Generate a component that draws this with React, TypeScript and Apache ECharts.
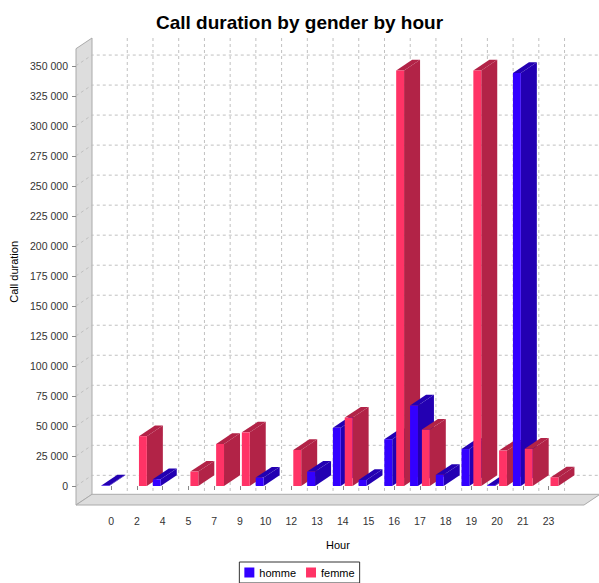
import React, { useEffect, useRef } from 'react';
import * as echarts from 'echarts';

const categories = ['0', '2', '4', '5', '7', '9', '10', '12', '13', '14', '15', '16', '17', '18', '19', '20', '21', '23'];
const homme: (number | null)[] = [400, null, 5600, null, null, null, 7000, null, 12000, 48500, 5000, 39000, 67000, 9300, 30800, 700, 344000, null];
const femme: (number | null)[] = [null, 41500, null, 12000, 35000, 44700, null, 30000, null, 57000, null, 346000, 47000, null, 346000, 29500, 31000, 7200];
const yTicks = [0, 25000, 50000, 75000, 100000, 125000, 150000, 175000, 200000, 225000, 250000, 275000, 300000, 325000, 350000];
const seriesNames = ['homme', 'femme'];

const frontColors = ['#3300ff', '#ff3366'];
const sideColors = ['#2300b2', '#b22347'];

const DX = 16;
const DY = 10.7;
const FRONT_LEFT = 76;
const FRONT_RIGHT = 584;
const FRONT_TOP = 48.7;
const FRONT_BOTTOM = 505;
const FONT = "'Liberation Sans', Arial, sans-serif";

function fmt(v: number) {
  return String(v).replace(/\B(?=(\d{3})+(?!\d))/g, ' ');
}

function toData(arr: (number | null)[]) {
  const out: number[][] = [];
  arr.forEach((v, i) => {
    if (v !== null) out.push([i, v]);
  });
  return out;
}

function barRenderer(si: number) {
  return (_params: any, api: any) => {
    const ci = api.value(0);
    const v = api.value(1);
    const base = api.coord([ci, 0]);
    const top = api.coord([ci, v]);
    const band = api.size([1, 0])[0];
    const w = band * 0.307;
    const g = band * 0.0767;
    const x0 = si === 0 ? base[0] - g - w : base[0] + g;
    const x1 = x0 + w;
    const y0 = base[1];
    const y1 = top[1];
    const z = ci * 10 + si * 4;
    return {
      type: 'group',
      children: [
        {
          type: 'polygon',
          z2: z,
          shape: { points: [[x1, y1], [x1 + DX, y1 - DY], [x1 + DX, y0 - DY], [x1, y0]] },
          style: { fill: sideColors[si] },
        },
        {
          type: 'polygon',
          z2: z + 1,
          shape: { points: [[x0, y1], [x1, y1], [x1 + DX, y1 - DY], [x0 + DX, y1 - DY]] },
          style: { fill: sideColors[si] },
        },
        {
          type: 'rect',
          z2: z + 2,
          shape: { x: x0, y: y1, width: w, height: Math.max(0, y0 - y1) },
          style: { fill: frontColors[si] },
        },
      ],
    };
  };
}

export default function App() {
  const ref = useRef<HTMLDivElement>(null);
  useEffect(() => {
    if (!ref.current) return;
    const chart = echarts.init(ref.current, null, { renderer: 'svg' });
    const option: any = {
      animation: false,
      backgroundColor: '#ffffff',
      title: {
        text: 'Call duration by gender by hour',
        left: 'center',
        top: 8,
        textStyle: { fontSize: 19, fontWeight: 'bold', color: '#000', fontFamily: FONT },
      },
      legend: {
        data: seriesNames,
        left: 'center',
        top: 562,
        icon: 'rect',
        itemWidth: 10,
        itemHeight: 10,
        itemGap: 10,
        padding: [5, 5, 5, 5],
        borderColor: '#333',
        borderWidth: 1,
        selectedMode: false,
        textStyle: { fontSize: 11, color: '#000', fontFamily: FONT },
      },
      grid: { left: 98.4, right: 37.6, top: FRONT_TOP, bottom: 78 },
      graphic: [
        {
          type: 'polygon',
          z: 0,
          silent: true,
          shape: { points: [[FRONT_LEFT, FRONT_TOP], [FRONT_LEFT + DX, FRONT_TOP - DY], [FRONT_LEFT + DX, FRONT_BOTTOM - DY], [FRONT_LEFT, FRONT_BOTTOM]] },
          style: { fill: '#dddddd', stroke: '#aaaaaa', lineWidth: 1 },
        },
        {
          type: 'polygon',
          z: 0,
          silent: true,
          shape: { points: [[FRONT_LEFT, FRONT_BOTTOM], [FRONT_LEFT + DX, FRONT_BOTTOM - DY], [FRONT_RIGHT + DX, FRONT_BOTTOM - DY], [FRONT_RIGHT, FRONT_BOTTOM]] },
          style: { fill: '#dddddd', stroke: '#aaaaaa', lineWidth: 1 },
        },
      ],
      xAxis: {
        type: 'category',
        data: categories,
        axisLine: { show: false },
        axisTick: { show: true, alignWithLabel: true, length: 4, lineStyle: { color: '#888' } },
        axisLabel: { fontSize: 10.5, color: '#333', fontFamily: FONT, margin: 10 },
        splitLine: { show: false },
        name: 'Hour',
        nameLocation: 'middle',
        nameGap: 34,
        nameTextStyle: { fontSize: 11, color: '#000', fontFamily: FONT, padding: [0, 0, 0, 16] },
      },
      yAxis: {
        type: 'value',
        min: -15800,
        max: 364200,
        offset: 22.4,
        axisLine: { show: false },
        splitLine: { show: false },
        axisTick: { show: true, length: 4, lineStyle: { color: '#888' }, customValues: yTicks },
        axisLabel: { customValues: yTicks, formatter: fmt, fontSize: 10.5, color: '#333', fontFamily: FONT, margin: 8 },
        name: 'Call duration',
        nameLocation: 'middle',
        nameGap: 56,
        nameTextStyle: { fontSize: 11, color: '#000', fontFamily: FONT, padding: [0, 0, 0, 10] },
      },
      series: [
        {
          type: 'custom',
          name: 'gridH',
          z: 1,
          silent: true,
          clip: false,
          data: yTicks.map((v) => [0, v]),
          renderItem: (_p: any, api: any) => {
            const y = api.coord([0, api.value(1)])[1];
            return {
              type: 'polyline',
              shape: { points: [[FRONT_LEFT, y], [FRONT_LEFT + DX, y - DY], [FRONT_RIGHT + DX, y - DY]] },
              style: { stroke: '#c0c0c0', lineWidth: 1, lineDash: [3, 3], fill: null },
            };
          },
        },
        {
          type: 'custom',
          name: 'gridV',
          z: 1,
          silent: true,
          clip: false,
          data: categories.map((_c, i) => [i, 0]),
          renderItem: (_p: any, api: any) => {
            const x = api.coord([api.value(0), 0])[0] + DX;
            return {
              type: 'line',
              shape: { x1: x, y1: FRONT_TOP - DY, x2: x, y2: FRONT_BOTTOM - DY },
              style: { stroke: '#c0c0c0', lineWidth: 1, lineDash: [3, 3] },
            };
          },
        },
        {
          type: 'custom',
          name: 'homme',
          z: 2,
          silent: true,
          clip: false,
          itemStyle: { color: frontColors[0] },
          data: toData(homme),
          renderItem: barRenderer(0),
        },
        {
          type: 'custom',
          name: 'femme',
          z: 2,
          silent: true,
          clip: false,
          itemStyle: { color: frontColors[1] },
          data: toData(femme),
          renderItem: barRenderer(1),
        },
      ],
    };
    chart.setOption(option);
    return () => chart.dispose();
  }, []);
  return <div ref={ref} style={{ position: 'absolute', left: 0, top: 0, width: 599, height: 583 }} />;
}
